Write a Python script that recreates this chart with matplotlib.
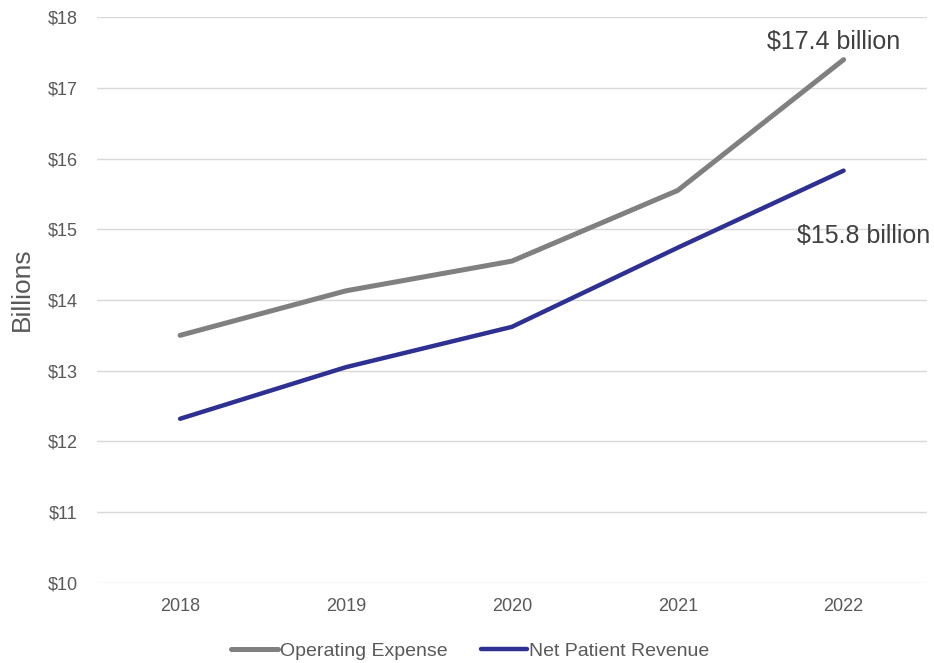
import matplotlib.pyplot as plt
import numpy as np

plt.rcParams['font.family'] = ['Liberation Sans', 'DejaVu Sans']

years = ['2018', '2019', '2020', '2021', '2022']
operating_expense = [13.50, 14.13, 14.55, 15.55, 17.40]
net_patient_revenue = [12.32, 13.05, 13.62, 14.74, 15.83]
yticks = [10, 11, 12, 13, 14, 15, 16, 17, 18]

fig = plt.figure(figsize=(9.34, 6.63), dpi=100)
ax = fig.add_axes([0.104, 0.121, 0.888, 0.853])

x = np.arange(len(years))
ax.plot(x, operating_expense, color='#808080', lw=3.6, label='Operating Expense', solid_capstyle='round')
ax.plot(x, net_patient_revenue, color='#2E3192', lw=3.2, label='Net Patient Revenue', solid_capstyle='round')

ax.text(x[-1] - 0.06, operating_expense[-1] + 0.08, '$17.4 billion', fontsize=18, color='#404040',
        ha='center', va='bottom')
ax.text(x[-1] + 0.12, net_patient_revenue[-1] - 0.93, '$15.8 billion', fontsize=18, color='#404040',
        ha='center', va='center')

ax.set_xlim(-0.5, len(years) - 0.5)
ax.set_ylim(10, 18)
ax.set_xticks(x)
ax.set_xticklabels(years)
ax.set_yticks(yticks)
ax.set_yticklabels(['$' + str(v) for v in yticks])
ax.tick_params(length=0, labelsize=13, labelcolor='#595959')
ax.tick_params(axis='y', pad=14)
ax.tick_params(axis='x', pad=11)
ax.grid(axis='y', color='#d9d9d9', lw=1)
ax.set_axisbelow(True)
for s in ax.spines.values():
    s.set_visible(False)
ax.set_ylabel('Billions', fontsize=19, color='#595959')
ax.yaxis.set_label_coords(-0.076, 0.52)

ax.legend(loc='upper center', bbox_to_anchor=(0.45, -0.075), ncol=2, frameon=False,
          fontsize=14, handlelength=2.4, handletextpad=0.1, columnspacing=1.7,
          labelcolor='#595959')

plt.savefig('out.png', dpi=100)
